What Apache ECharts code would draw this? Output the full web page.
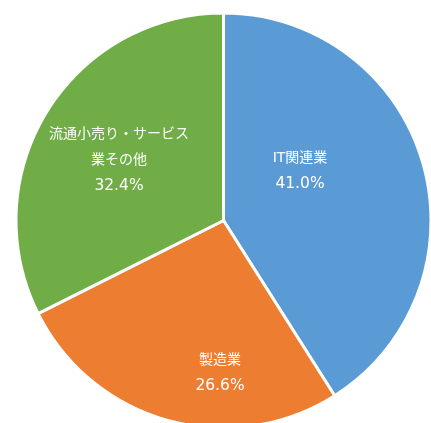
<!DOCTYPE html>
<html><head><meta charset="utf-8">
<script src="https://cdn.jsdelivr.net/npm/echarts@6/dist/echarts.min.js"></script>
<style>html,body{margin:0;padding:0;background:#fff}#c{width:431px;height:423px}</style>
</head><body><div id="c"></div>
<script>
const categories = ['IT関連業', '製造業', '流通小売り・サービス業その他'];
const values = [41.0, 26.6, 32.4];
const colors = ['#5B9BD5', '#ED7D31', '#70AD47'];
const labelPos = [[300, 171], [220, 373], [119, 160]];
const maxLineChars = 10;

function wrap(s) {
  const out = [];
  for (let i = 0; i < s.length; i += maxLineChars) out.push('{n|' + s.slice(i, i + maxLineChars) + '}');
  return out.join('\n');
}

const chart = echarts.init(document.getElementById('c'), null, {renderer: 'canvas'});
chart.setOption({
  animation: false,
  series: [{
    type: 'pie',
    center: [223.5, 220.5],
    radius: 207.5,
    startAngle: 90,
    clockwise: true,
    data: categories.map((n, i) => ({name: n, value: values[i], itemStyle: {color: colors[i]}})),
    itemStyle: {borderColor: '#fff', borderWidth: 3},
    label: {
      show: true,
      position: 'inside',
      color: '#fff',
      align: 'center',
      formatter: p => wrap(p.name) + '\n{v|' + p.value.toFixed(1) + '%}',
      rich: {
        n: {fontSize: 14, lineHeight: 26, color: '#fff', fontFamily: '"DejaVu Sans", "Noto Sans CJK JP", sans-serif'},
        v: {fontSize: 15.5, lineHeight: 26, color: '#fff', fontFamily: '"DejaVu Sans", "Noto Sans CJK JP", sans-serif'}
      }
    },
    labelLayout: p => ({x: labelPos[p.dataIndex][0], y: labelPos[p.dataIndex][1], align: 'center', verticalAlign: 'middle'}),
    emphasis: {disabled: true}
  }]
});
</script></body></html>
